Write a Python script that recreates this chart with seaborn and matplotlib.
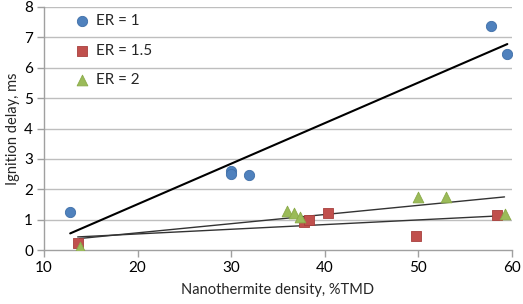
import matplotlib
matplotlib.use("Agg")
import matplotlib.pyplot as plt
import seaborn as sns
import pandas as pd

# Data
er1_x = [12.8, 30.0, 30.0, 31.9, 57.8, 59.5]
er1_y = [1.25, 2.60, 2.50, 2.48, 7.38, 6.45]
er15_x = [13.6, 37.8, 38.3, 40.3, 49.7, 58.4]
er15_y = [0.24, 0.93, 1.00, 1.21, 0.46, 1.15]
er2_x = [13.8, 36.0, 36.7, 37.35, 50.0, 52.95, 59.2]
er2_y = [0.10, 1.29, 1.23, 1.07, 1.75, 1.75, 1.17]
series_labels = ["ER = 1", "ER = 1.5", "ER = 2"]
x_ticks = [10, 20, 30, 40, 50, 60]
y_ticks = [0, 1, 2, 3, 4, 5, 6, 7, 8]

sns.set_theme(style="white")
plt.rcParams['font.family'] = ['Lato', 'DejaVu Sans']

df = pd.concat([
    pd.DataFrame({"x": er1_x, "y": er1_y, "ER": series_labels[0]}),
    pd.DataFrame({"x": er15_x, "y": er15_y, "ER": series_labels[1]}),
    pd.DataFrame({"x": er2_x, "y": er2_y, "ER": series_labels[2]}),
], ignore_index=True)

colors = {"ER = 1": "#4F81BD", "ER = 1.5": "#C0504D", "ER = 2": "#9BBB59"}
edges = {"ER = 1": "#3F6FA8", "ER = 1.5": "#A8403D", "ER = 2": "#8AAA48"}
markers = {"ER = 1": "o", "ER = 1.5": "s", "ER = 2": "^"}
sizes = {"ER = 1": 55, "ER = 1.5": 55, "ER = 2": 60}

fig = plt.figure(figsize=(5.23, 3.04), dpi=100)
ax = fig.add_axes([44/523, 54/304, 468/523, 243/304])

for ax_h in y_ticks[1:]:
    ax.axhline(ax_h, color="#BEBEBE", lw=1.0, zorder=0)

for lab in series_labels:
    sub = df[df["ER"] == lab]
    sns.scatterplot(data=sub, x="x", y="y", ax=ax, color=colors[lab], marker=markers[lab],
                    s=sizes[lab], edgecolor=edges[lab], linewidth=0.6, label=lab, zorder=3)

line_styles = {"ER = 1": ("black", 1.5), "ER = 1.5": ("#333333", 1.0), "ER = 2": ("#333333", 1.0)}
for lab in series_labels:
    sub = df[df["ER"] == lab]
    c, lw = line_styles[lab]
    sns.regplot(data=sub, x="x", y="y", ax=ax, scatter=False, ci=None, truncate=True,
                line_kws={"color": c, "lw": lw, "zorder": 2})

ax.set_xlim(10, 60)
ax.set_ylim(0, 8)
ax.set_xticks(x_ticks)
ax.set_yticks(y_ticks)
ax.tick_params(axis="both", labelsize=11, colors="#000000", length=5, width=1, direction="out",
               left=True, bottom=True, pad=3)
ax.tick_params(axis="both", color="#A0A0A0")
for s in ["top", "right"]:
    ax.spines[s].set_visible(False)
for s in ["left", "bottom"]:
    ax.spines[s].set_color("#A0A0A0")
    ax.spines[s].set_linewidth(1.0)
ax.set_xlabel("Nanothermite density, %TMD", fontsize=10.5, labelpad=6)
ax.set_ylabel("Ignition delay, ms", fontsize=10.5, labelpad=3)

handles, labels = ax.get_legend_handles_labels()
leg = ax.legend(handles[:3], labels[:3], loc="upper left", bbox_to_anchor=(0.035, 0.995),
                frameon=False, fontsize=11, labelspacing=1.0, handletextpad=-0.1,
                borderaxespad=0, markerscale=1.0)

fig.savefig("out.png", dpi=100)
